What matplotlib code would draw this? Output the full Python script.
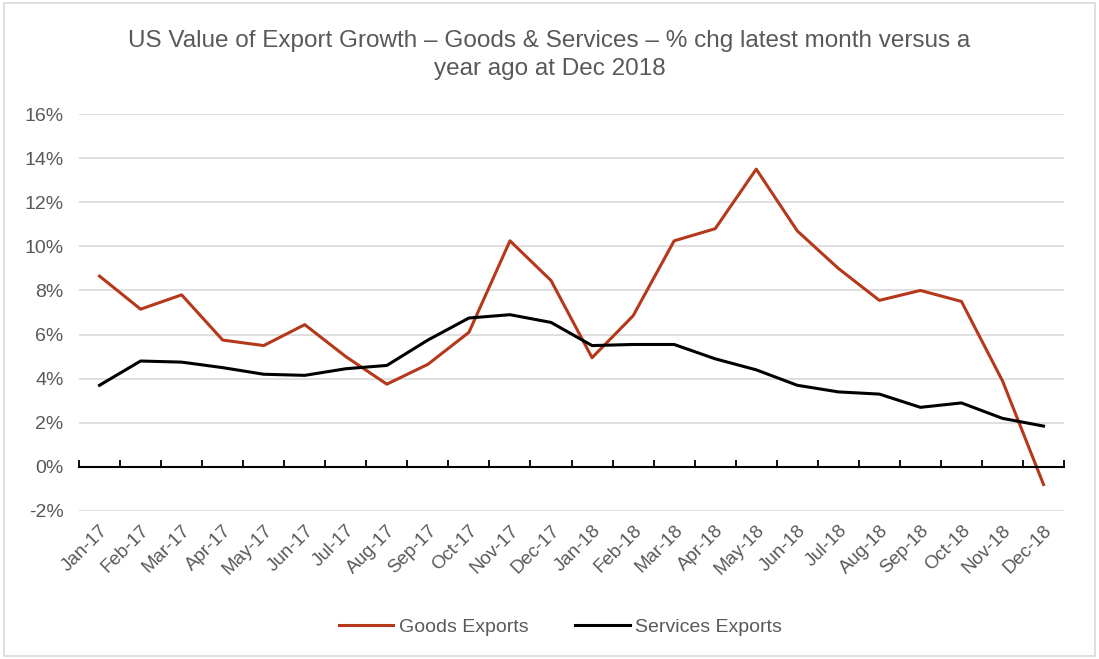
import matplotlib
matplotlib.use("Agg")
import matplotlib.pyplot as plt
import numpy as np
from matplotlib.patches import Rectangle

months = ["Jan-17", "Feb-17", "Mar-17", "Apr-17", "May-17", "Jun-17", "Jul-17", "Aug-17",
          "Sep-17", "Oct-17", "Nov-17", "Dec-17", "Jan-18", "Feb-18", "Mar-18", "Apr-18",
          "May-18", "Jun-18", "Jul-18", "Aug-18", "Sep-18", "Oct-18", "Nov-18", "Dec-18"]
goods = [8.65, 7.15, 7.8, 5.75, 5.5, 6.45, 5.0, 3.75, 4.65, 6.1, 10.25, 8.45,
         4.95, 6.85, 10.25, 10.8, 13.5, 10.7, 9.0, 7.55, 8.0, 7.5, 3.9, -0.8]
services = [3.7, 4.8, 4.75, 4.5, 4.2, 4.15, 4.45, 4.6, 5.75, 6.75, 6.9, 6.55,
            5.5, 5.55, 5.55, 4.9, 4.4, 3.7, 3.4, 3.3, 2.7, 2.9, 2.2, 1.85]
yticks = [-2, 0, 2, 4, 6, 8, 10, 12, 14, 16]

TITLE = "US Value of Export Growth – Goods & Services – % chg latest month versus a\nyear ago at Dec 2018"
GOODS_C = "#B5381A"
TEXT_C = "#595959"

plt.rcParams["font.family"] = ["Liberation Sans", "DejaVu Sans"]

fig = plt.figure(figsize=(10.99, 6.59), dpi=100)
ax = fig.add_axes([0.0719, 0.2246, 0.8963, 0.6024])

x = np.arange(len(months))
ax.plot(x, goods, color=GOODS_C, lw=2.2, label="Goods Exports", zorder=3)
ax.plot(x, services, color="black", lw=2.2, label="Services Exports", zorder=3)

ax.set_xlim(-0.5, len(months) - 0.5)
ax.set_ylim(-2, 16)
ax.set_yticks(yticks)
ax.set_yticklabels([f"{v}%" for v in yticks], fontsize=14, color=TEXT_C)
ax.tick_params(axis="y", length=0, pad=11)
for v in yticks:
    if v != 0:
        ax.axhline(v, color="#D9D9D9", lw=1.2, zorder=1)
for s in ax.spines.values():
    s.set_visible(False)

ax.set_xticks(x)
ax.set_xticklabels(months, rotation=45, ha="right", rotation_mode="anchor",
                   fontsize=13.5, color=TEXT_C)
ax.tick_params(axis="x", length=0, pad=8)

# zero line with category boundary ticks
ax2 = ax.twiny()
ax2.set_xlim(ax.get_xlim())
for s in ax2.spines.values():
    s.set_visible(False)
ax2.spines["bottom"].set_visible(True)
ax2.spines["bottom"].set_position(("data", 0))
ax2.spines["bottom"].set_linewidth(1.5)
ax2.spines["bottom"].set_zorder(2)
ax2.xaxis.set_ticks_position("bottom")
ax2.set_xticks(np.arange(len(months) + 1) - 0.5)
ax2.set_xticklabels([])
ax2.tick_params(axis="x", direction="in", length=5, width=1.3)

fig.suptitle(TITLE, y=0.955, fontsize=17.5, color=TEXT_C, linespacing=1.4)

fig.legend(loc="center", bbox_to_anchor=(0.51, 0.048), ncol=2, frameon=False,
           fontsize=14, handlelength=2.8, columnspacing=2.4, handletextpad=0.3,
           labelcolor=TEXT_C)

fig.patches.append(Rectangle((0.004, 0.004), 0.992, 0.992, transform=fig.transFigure,
                             fill=False, edgecolor="#D9D9D9", lw=1.2))

fig.savefig("out.png", dpi=100)
